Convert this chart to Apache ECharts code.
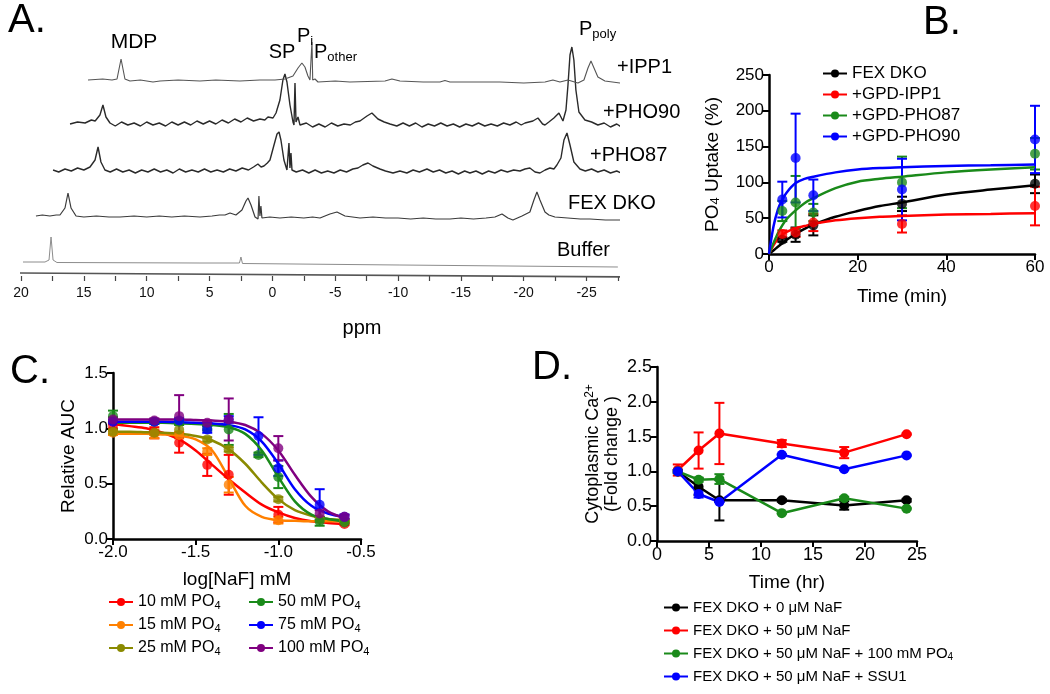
<!DOCTYPE html>
<html><head><meta charset="utf-8">
<script src="https://cdn.jsdelivr.net/npm/echarts/dist/echarts.min.js"></script>
<style>html,body{margin:0;padding:0;background:#fff}#c{width:1050px;height:694px}</style>
</head><body><div id="c"></div><script>
// ================= DATA =================
// Panel A: 31P NMR traces, [ppm, intensity (a.u.)]
const nmrIPP1 = [[14.67,196],[13.5,197],[12.76,196],[12.36,197],[12.04,217],[11.73,197],[11.33,195],[10.5,196],[9.5,194],[8.94,195],[7.5,196],[5.76,195],[4.5,196],[2.58,195],[1.0,196],[-0.21,196],[-1.0,197],[-1.64,200],[-2.04,208],[-2.35,213],[-2.59,209],[-2.83,200],[-2.99,196],[-3.11,196],[-3.15,234],[-3.21,196],[-3.39,197],[-3.63,194],[-5.0,195],[-6.17,194],[-8.96,195],[-9.51,197],[-10.15,195],[-12.0,194],[-13.33,194],[-13.73,195.5],[-14.13,194],[-16.0,194],[-18.11,194],[-20.0,193],[-21.69,194],[-22.32,196],[-22.88,194],[-23.52,196],[-24.31,193],[-24.79,196],[-25.11,208],[-25.35,215],[-25.59,208],[-25.90,199],[-26.46,195],[-27.65,193],[-29.0,193],[-30.84,192]];
const nmrPHO90 = [[16.10,152],[15.5,154],[14.9,153],[14.4,156],[14.1,155],[13.72,161],[13.48,171],[13.24,159],[12.92,153],[12.5,150],[12.0,154],[11.5,151],[11.0,153],[10.5,150],[10.0,154],[9.5,151],[9.0,153],[8.5,150],[8.0,154],[7.5,151],[7.0,154],[6.5,151],[6.0,155],[5.5,152],[5.0,155],[4.5,152],[4.0,156],[3.5,153],[3.0,157],[2.5,154],[2.0,158],[1.5,155],[0.99,157],[0.6,156],[0.35,159],[-0.05,158],[-0.29,163],[-0.60,176],[-0.84,196],[-1.0,202],[-1.16,194],[-1.40,171],[-1.64,154],[-1.72,151],[-1.80,193],[-1.88,154],[-2.04,159],[-2.2,151],[-2.7,153],[-3.2,149],[-3.7,152],[-4.2,149],[-4.7,153],[-5.2,150],[-5.7,152],[-6.2,151],[-6.6,154],[-6.97,155],[-7.53,160],[-7.92,163],[-8.40,157],[-8.9,154],[-9.36,152],[-9.9,150],[-10.4,153],[-10.9,150],[-11.4,153],[-11.9,149],[-12.4,152],[-12.9,150],[-13.4,153],[-13.9,150],[-14.4,152],[-14.9,149],[-15.4,152],[-15.9,150],[-16.4,153],[-16.9,150],[-17.4,152],[-17.9,150],[-18.4,153],[-18.9,151],[-19.4,154],[-19.8,151],[-20.10,153],[-20.73,155],[-21.13,158],[-21.5,152],[-21.69,151],[-22.0,154],[-22.4,158],[-22.80,163],[-23.12,155],[-23.36,166],[-23.52,191],[-23.68,221],[-23.83,229],[-23.99,216],[-24.15,186],[-24.39,164],[-24.87,156],[-25.4,154],[-25.9,151],[-26.4,153],[-26.9,149],[-27.4,152],[-27.9,148],[-28.45,150],[-29.0,147],[-29.6,150],[-30.2,147],[-30.84,149]];
const nmrPHO87 = [[17.45,106],[17.0,104],[16.5,107],[16.0,105],[15.5,108],[15.0,106],[14.51,109],[14.11,116],[13.87,129],[13.64,114],[13.32,106],[12.9,104],[12.4,107],[11.9,104],[11.4,106],[10.9,103],[10.4,106],[9.9,104],[9.4,107],[8.9,104],[8.4,106],[7.9,103],[7.4,107],[6.9,104],[6.4,106],[5.9,104],[5.4,107],[4.9,104],[4.4,106],[3.9,104],[3.4,107],[2.9,105],[2.4,108],[1.9,106],[1.5,109],[1.15,112],[0.9,109],[0.67,110],[0.4,113],[0.19,116],[-0.13,131],[-0.37,142],[-0.53,144],[-0.68,136],[-0.92,116],[-1.16,106],[-1.28,106],[-1.32,133],[-1.40,108],[-1.48,123],[-1.56,106],[-1.9,104],[-2.4,106],[-2.9,103],[-3.4,106],[-3.9,103],[-4.4,105],[-4.9,103],[-5.4,106],[-5.9,104],[-6.4,107],[-6.81,108],[-7.2,111],[-7.61,113],[-8.0,110],[-8.56,107],[-9.0,105],[-9.6,103],[-10.15,105],[-10.7,103],[-11.2,106],[-11.7,104],[-12.30,107],[-12.8,104],[-13.3,106],[-13.8,103],[-14.3,105],[-14.8,102],[-15.3,105],[-15.72,103],[-16.2,105],[-16.7,102],[-17.2,105],[-17.7,103],[-18.2,106],[-18.7,104],[-19.2,106],[-19.70,105],[-20.1,107],[-20.49,108],[-20.9,104],[-21.29,103],[-21.7,106],[-22.08,108],[-22.4,107],[-22.64,111],[-22.96,118],[-23.20,136],[-23.44,143],[-23.68,131],[-23.99,114],[-24.47,107],[-24.9,105],[-25.4,107],[-25.9,104],[-26.4,106],[-26.9,103],[-27.4,105],[-27.9,102],[-28.4,104],[-28.9,101],[-29.4,104],[-29.8,102],[-30.28,103]];
const nmrFEX = [[18.81,60],[18.3,61],[17.7,60],[17.2,61],[16.90,61],[16.50,68],[16.26,83],[16.02,68],[15.62,60],[15.0,59],[14.0,60],[13.0,59],[12.12,59],[11.0,60],[10.0,59],[9.0,60],[8.0,59],[7.0,60],[5.76,59],[4.8,60],[4.2,61],[3.77,61],[3.37,63],[2.90,61],[2.42,66],[2.10,75],[1.94,78],[1.70,71],[1.38,59],[1.14,57],[1.07,80],[0.99,60],[0.91,70],[0.83,58],[0.2,59],[-0.60,58],[-1.5,59],[-2.5,58],[-3.2,59],[-3.79,58],[-4.58,62],[-5.14,64],[-5.78,60],[-6.97,58],[-8.0,59],[-9.0,58],[-10.0,58],[-11.0,57],[-12.0,58],[-13.0,57],[-14.13,57],[-15.0,58],[-16.0,57],[-17.0,58],[-17.71,59],[-18.27,62],[-18.74,58],[-19.14,56],[-19.5,58],[-19.86,60],[-20.49,64],[-20.81,76],[-21.05,84],[-21.29,76],[-21.69,64],[-22.0,61],[-22.48,59],[-23.5,58],[-24.5,57],[-25.27,57],[-26.5,56],[-27.7,56],[-28.85,55]];
const nmrBuffer = [[19.84,14],[18.09,14],[17.77,16],[17.61,39],[17.45,16],[17.14,13.5],[5.76,13],[2.62,13],[2.50,19],[2.38,12.5],[-10.15,11],[-27.49,9]];
const ppmAxisLine = [[20.7,3],[-28.6,-1]];

// Panel B: PO4 uptake
const timeB = [3, 6, 10, 30, 60];
const meanB_DKO = [20, 27, 40, 70, 98];
const errB_DKO  = [3, 10, 14, 10, 13];
const meanB_IPP1 = [28, 30, 44, 42, 67];
const errB_IPP1  = [5, 6, 12, 12, 27];
const meanB_PHO87 = [60, 72, 58, 100, 140];
const errB_PHO87  = [14, 37, 12, 36, 22];
const meanB_PHO90 = [76, 134, 82, 90, 160];
const errB_PHO90  = [25, 62, 22, 43, 47];
const fitTimeB = [0, 1, 2, 3, 4, 6, 8, 10, 15, 20, 25, 30, 40, 50, 60];
const fitB_DKO   = [0, 5, 10, 15, 20, 28, 35, 41, 52, 60, 67, 72, 83, 90, 96];
const fitB_IPP1  = [0, 12, 21, 27, 31, 36, 39, 42, 47, 50, 52, 53, 55, 56, 57];
const fitB_PHO87 = [0, 15, 29, 40, 49, 61, 71, 78, 92, 101, 105, 108, 114, 118, 121];
const fitB_PHO90 = [0, 38, 62, 76, 86, 99, 105, 108, 114, 118, 120, 121, 123, 124, 125];
const namesB = ['FEX DKO', '+GPD-IPP1', '+GPD-PHO87', '+GPD-PHO90'];

// Panel C: relative AUC vs log[NaF]
const logNaF = [-2.0, -1.75, -1.6, -1.43, -1.3, -1.12, -1.0, -0.75, -0.6];
const aucC_10  = [1.03, 0.96, 0.87, 0.67, 0.58, null, 0.22, null, 0.135];
const errC_10  = [0.03, 0.05, 0.09, 0.10, 0.18, null, 0.07, null, 0.01];
const aucC_15  = [0.96, 0.95, 0.94, 0.79, 0.49, null, 0.17, null, 0.16];
const errC_15  = [0.02, 0.04, 0.03, 0.03, 0.07, null, 0.03, null, 0.01];
const aucC_25  = [0.97, 0.96, 0.99, 0.90, 0.81, null, 0.36, 0.18, 0.17];
const errC_25  = [0.02, 0.02, 0.05, 0.02, 0.02, null, 0.02, 0.02, 0.01];
const aucC_50  = [1.11, 1.06, 1.06, 1.00, 0.99, 0.76, 0.56, 0.16, 0.15];
const errC_50  = [0.05, 0.02, 0.03, 0.02, 0.14, 0.02, 0.10, 0.04, 0.01];
const aucC_75  = [1.06, 1.06, 1.07, 0.99, 1.08, 0.93, 0.64, 0.31, 0.20];
const errC_75  = [0.02, 0.02, 0.02, 0.03, 0.03, 0.17, 0.07, 0.14, 0.02];
const aucC_100 = [1.08, 1.07, 1.11, 1.05, 1.08, null, 0.82, 0.23, 0.20];
const errC_100 = [0.02, 0.02, 0.19, 0.02, 0.19, null, 0.11, 0.03, 0.02];
const fitXC = [-2.0, -1.9, -1.8, -1.7, -1.6, -1.5, -1.4, -1.3, -1.2, -1.1, -1.0, -0.9, -0.8, -0.7, -0.6];
const fitC_10  = [1.04, 1.02, 1.00, 0.96, 0.90, 0.80, 0.67, 0.54, 0.42, 0.31, 0.24, 0.19, 0.16, 0.145, 0.135];
const fitC_15  = [0.95, 0.95, 0.95, 0.945, 0.935, 0.90, 0.80, 0.55, 0.30, 0.20, 0.17, 0.165, 0.16, 0.16, 0.16];
const fitC_25  = [0.97, 0.97, 0.965, 0.96, 0.95, 0.93, 0.89, 0.81, 0.68, 0.51, 0.36, 0.26, 0.21, 0.18, 0.17];
const fitC_50  = [1.05, 1.05, 1.05, 1.05, 1.045, 1.04, 1.03, 1.01, 0.95, 0.80, 0.56, 0.34, 0.22, 0.18, 0.16];
const fitC_75  = [1.06, 1.06, 1.06, 1.06, 1.055, 1.05, 1.045, 1.03, 0.99, 0.88, 0.68, 0.45, 0.30, 0.23, 0.20];
const fitC_100 = [1.08, 1.08, 1.08, 1.08, 1.08, 1.075, 1.07, 1.06, 1.03, 0.95, 0.80, 0.58, 0.38, 0.25, 0.19];
const namesC = ['10 mM PO4', '15 mM PO4', '25 mM PO4', '50 mM PO4', '75 mM PO4', '100 mM PO4'];

// Panel D: cytoplasmic Ca2+ fold change
const timeD = [2, 4, 6, 12, 18, 24];
const caD_0    = [1.00, 0.78, 0.585, 0.585, 0.51, 0.585];
const errD_0   = [0.02, 0.12, 0.29, 0.02, 0.06, 0.02];
const caD_50   = [1.02, 1.30, 1.545, 1.40, 1.27, 1.535];
const errD_50  = [0.08, 0.26, 0.44, 0.05, 0.08, 0.01];
const caD_PO4  = [1.00, 0.88, 0.89, 0.40, 0.615, 0.465];
const errD_PO4 = [0.02, 0.03, 0.07, 0.01, 0.02, 0.01];
const caD_SSU1 = [1.00, 0.675, 0.56, 1.24, 1.03, 1.23];
const errD_SSU1= [0.02, 0.05, 0.00, 0.01, 0.01, 0.01];
const namesD = ['FEX DKO + 0 \u03bcM NaF', 'FEX DKO + 50 \u03bcM NaF', 'FEX DKO + 50 \u03bcM NaF + 100 mM PO4', 'FEX DKO + 50 \u03bcM NaF + SSU1'];

// ================= CHART =================
const FONT = 'Liberation Sans, Arial, sans-serif';
const BLACK = '#000000', RED = '#ff0000', GREEN = '#1a8a1a', BLUE = '#0000ff',
      ORANGE = '#ff8000', OLIVE = '#8a8a00', PURPLE = '#800080';

const chart = echarts.init(document.getElementById('c'), null, {renderer: 'canvas'});

function zip(xs, ys) { const out = []; xs.forEach((x, i) => { if (ys[i] != null) out.push([x, ys[i]]); }); return out; }
function errData(xs, ms, es) { const out = []; xs.forEach((x, i) => { if (ms[i] != null && es[i] != null) out.push([x, ms[i] - es[i], ms[i] + es[i]]); }); return out; }

function errRender(params, api) {
  const x = api.value(0), lo = api.value(1), hi = api.value(2);
  const p1 = api.coord([x, hi]), p2 = api.coord([x, lo]);
  const w = 5;
  const st = {stroke: api.visual('color'), lineWidth: 2, fill: null};
  return {type: 'group', children: [
    {type: 'line', shape: {x1: p1[0], y1: p1[1], x2: p2[0], y2: p2[1]}, style: st},
    {type: 'line', shape: {x1: p1[0] - w, y1: p1[1], x2: p1[0] + w, y2: p1[1]}, style: st},
    {type: 'line', shape: {x1: p2[0] - w, y1: p2[1], x2: p2[0] + w, y2: p2[1]}, style: st}
  ]};
}

const series = [];
function nmrLine(data, color, width) {
  series.push({type: 'line', xAxisIndex: 0, yAxisIndex: 0, data: data, symbol: 'none', showSymbol: false,
    clip: false, silent: true, lineStyle: {color: color, width: width}, z: 2});
}
nmrLine(ppmAxisLine, '#555555', 1.6);
nmrLine(nmrBuffer, '#8c8c8c', 1);
nmrLine(nmrFEX, '#3a3a3a', 1.2);
nmrLine(nmrPHO87, '#2a2a2a', 1.4);
nmrLine(nmrPHO90, '#2a2a2a', 1.4);
nmrLine(nmrIPP1, '#555555', 1.1);

function group(ax, name, color, fitX, fitY, xs, ms, es, connect) {
  // legend-bearing line series first
  if (connect) {
    series.push({type: 'line', name: name, xAxisIndex: ax, yAxisIndex: ax, data: zip(xs, ms),
      symbol: 'circle', symbolSize: 10, showSymbol: true, color: color,
      lineStyle: {color: color, width: 2.5}, itemStyle: {color: color}, z: 4});
  } else {
    series.push({type: 'line', name: name, xAxisIndex: ax, yAxisIndex: ax, data: zip(fitX, fitY),
      smooth: 0.3, symbol: 'circle', symbolSize: 10, showSymbol: false, color: color,
      lineStyle: {color: color, width: 2.5}, itemStyle: {color: color}, z: 3});
    series.push({type: 'scatter', name: name, xAxisIndex: ax, yAxisIndex: ax, data: zip(xs, ms),
      symbol: 'circle', symbolSize: 10, itemStyle: {color: color}, z: 5});
  }
  series.push({type: 'custom', name: name, xAxisIndex: ax, yAxisIndex: ax, data: errData(xs, ms, es),
    renderItem: errRender, itemStyle: {color: color}, encode: {x: 0, y: [1, 2]}, z: 3});
}
// Panel B
group(1, namesB[0], BLACK, fitTimeB, fitB_DKO, timeB, meanB_DKO, errB_DKO);
group(1, namesB[1], RED, fitTimeB, fitB_IPP1, timeB, meanB_IPP1, errB_IPP1);
group(1, namesB[2], GREEN, fitTimeB, fitB_PHO87, timeB, meanB_PHO87, errB_PHO87);
group(1, namesB[3], BLUE, fitTimeB, fitB_PHO90, timeB, meanB_PHO90, errB_PHO90);
// Panel C
group(2, namesC[0], RED, fitXC, fitC_10, logNaF, aucC_10, errC_10);
group(2, namesC[1], ORANGE, fitXC, fitC_15, logNaF, aucC_15, errC_15);
group(2, namesC[2], OLIVE, fitXC, fitC_25, logNaF, aucC_25, errC_25);
group(2, namesC[3], GREEN, fitXC, fitC_50, logNaF, aucC_50, errC_50);
group(2, namesC[4], BLUE, fitXC, fitC_75, logNaF, aucC_75, errC_75);
group(2, namesC[5], PURPLE, fitXC, fitC_100, logNaF, aucC_100, errC_100);
// Panel D
group(3, namesD[0], BLACK, null, null, timeD, caD_0, errD_0, true);
group(3, namesD[1], RED, null, null, timeD, caD_50, errD_50, true);
group(3, namesD[2], GREEN, null, null, timeD, caD_PO4, errD_PO4, true);
group(3, namesD[3], BLUE, null, null, timeD, caD_SSU1, errD_SSU1, true);

const axLine = {onZero: false, lineStyle: {color: '#000', width: 2.5}};
const axTick = {show: true, length: 6, lineStyle: {color: '#000', width: 2}};
function lbl(size, fmt) { return {fontSize: size, color: '#000', fontFamily: FONT, margin: 5, formatter: fmt}; }
const nameStyle = {fontSize: 19, color: '#000', fontFamily: FONT, lineHeight: 19,
  rich: {sub: {fontSize: 13, lineHeight: 7, verticalAlign: 'bottom'}, sup: {fontSize: 12, lineHeight: 6, verticalAlign: 'top'}}};

const legRich = {s: {fontSize: 11, lineHeight: 8, verticalAlign: 'bottom'}};
function legend(names, left, top, size, gap) {
  return {data: names, left: left, top: top, orient: 'vertical', itemWidth: 24, itemHeight: 10, itemGap: gap,
    selectedMode: false, padding: 0,
    textStyle: {fontSize: size, color: '#000', fontFamily: FONT, lineHeight: size + 2, rich: {s: {fontSize: size - 5, lineHeight: 7, verticalAlign: 'bottom'}}},
    formatter: n => n.replace(/PO4$/, 'PO{s|4}')};
}

function gtext(x, y, text, size, align, rich) {
  const st = {text: text, fontSize: size, fontFamily: FONT, fill: '#000', align: align || 'left', verticalAlign: 'middle',
    textAlign: align || 'left', textVerticalAlign: 'middle'};
  if (rich) st.rich = rich;
  return {type: 'text', x: x, y: y, style: st, silent: true, z: 10};
}
const subRich = {a: {fontSize: 20, lineHeight: 24, fontFamily: FONT}, s: {fontSize: 13, lineHeight: 13, verticalAlign: 'bottom', fontFamily: FONT}};

const option = {
  animation: false,
  backgroundColor: '#ffffff',
  textStyle: {fontFamily: FONT},
  grid: [
    {left: 21, top: 0, width: 597, height: 276, outerBoundsMode: 'none'},
    {left: 769, top: 75, width: 266, height: 179, outerBoundsMode: 'none'},
    {left: 113, top: 373, width: 248, height: 166, outerBoundsMode: 'none'},
    {left: 657, top: 367, width: 260, height: 174, outerBoundsMode: 'none'}
  ],
  xAxis: [
    {gridIndex: 0, type: 'value', inverse: true, min: -27.5, max: 20, interval: 2.5,
      axisLine: {show: false}, splitLine: {show: false},
      axisTick: {show: true, length: 5, lineStyle: {color: '#444', width: 1.2}},
      axisLabel: {fontSize: 14, color: '#111', fontFamily: FONT, margin: 10, formatter: v => (Math.abs(v % 5) < 1e-9 ? String(v) : '')}},
    {gridIndex: 1, type: 'value', min: 0, max: 60, interval: 20, axisLine: axLine, axisTick: axTick, splitLine: {show: false},
      axisLabel: lbl(17), name: 'Time (min)', nameLocation: 'middle', nameGap: 33, nameTextStyle: nameStyle},
    {gridIndex: 2, type: 'value', min: -2, max: -0.5, interval: 0.5, axisLine: axLine, axisTick: axTick, splitLine: {show: false},
      axisLabel: lbl(17, v => v.toFixed(1)), name: 'log[NaF] mM', nameLocation: 'middle', nameGap: 31, nameTextStyle: nameStyle},
    {gridIndex: 3, type: 'value', min: 0, max: 25, interval: 5, axisLine: axLine, axisTick: axTick, splitLine: {show: false},
      axisLabel: lbl(18), name: 'Time (hr)', nameLocation: 'middle', nameGap: 32, nameTextStyle: nameStyle}
  ],
  yAxis: [
    {gridIndex: 0, type: 'value', min: 0, max: 276, show: false},
    {gridIndex: 1, type: 'value', min: 0, max: 250, interval: 50, axisLine: axLine, axisTick: axTick, splitLine: {show: false},
      axisLabel: lbl(17), name: 'PO{sub|4} Uptake (%)', nameLocation: 'middle', nameGap: 47, nameRotate: 90, nameTextStyle: nameStyle},
    {gridIndex: 2, type: 'value', min: 0, max: 1.5, interval: 0.5, axisLine: axLine, axisTick: axTick, splitLine: {show: false},
      axisLabel: lbl(17, v => v.toFixed(1)), name: 'Relative AUC', nameLocation: 'middle', nameGap: 35, nameRotate: 90, nameTextStyle: nameStyle},
    {gridIndex: 3, type: 'value', min: 0, max: 2.5, interval: 0.5, axisLine: axLine, axisTick: axTick, splitLine: {show: false},
      axisLabel: lbl(18, v => v.toFixed(1)), name: 'Cytoplasmic Ca{sup|2+}\n(Fold change )', nameLocation: 'middle', nameGap: 35, nameRotate: 90,
      nameTextStyle: Object.assign({}, nameStyle, {fontSize: 18, lineHeight: 19})}
  ],
  legend: [
    legend(namesB, 822, 64, 17, 2),
    legend(namesC.slice(0, 3), 108, 593, 16, 5),
    legend(namesC.slice(3), 248, 593, 16, 5),
    legend(namesD, 663, 599, 15, 6)
  ],
  graphic: [
    gtext(8, 21, 'A.', 40),
    gtext(134, 42, 'MDP', 21, 'center'),
    gtext(282, 52, 'SP', 20, 'center'),
    gtext(297, 36, '{a|P}{s|i}', 20, 'left', subRich),
    gtext(314, 52, '{a|P}{s|other}', 20, 'left', subRich),
    gtext(579, 29, '{a|P}{s|poly}', 20, 'left', subRich),
    gtext(617, 67, '+IPP1', 20),
    gtext(603, 112, '+PHO90', 20),
    gtext(590, 155, '+PHO87', 20),
    gtext(568, 203, 'FEX DKO', 20),
    gtext(557, 250, 'Buffer', 20),
    gtext(362, 328, 'ppm', 20, 'center'),
    gtext(923, 23, 'B.', 40),
    gtext(10, 372, 'C.', 40),
    gtext(532, 368, 'D.', 40)
  ],
  series: series
};
chart.setOption(option);
</script></body></html>
